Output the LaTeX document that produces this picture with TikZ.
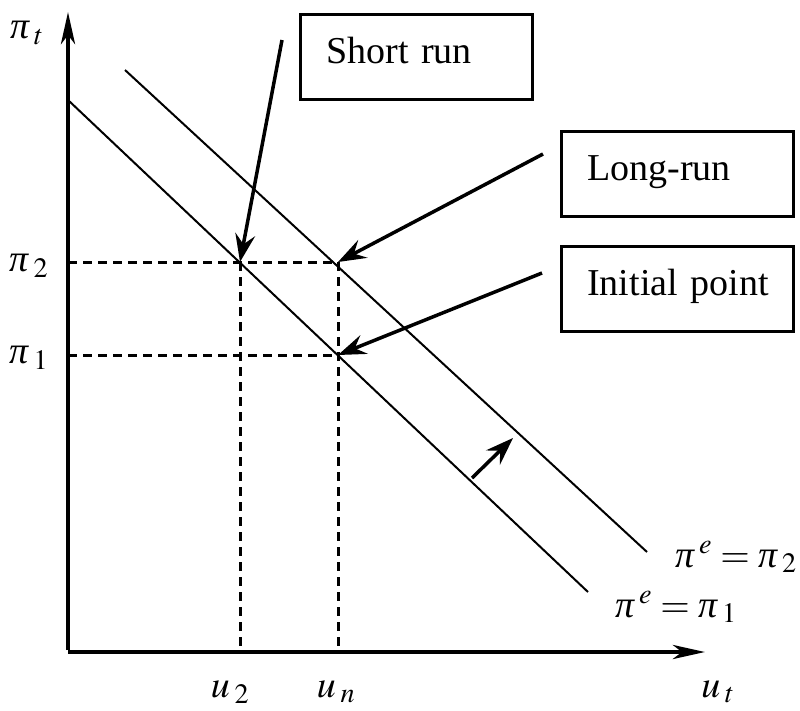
\documentclass[tikz,border=0pt]{standalone}
\usepackage{mathptmx}
\usepackage{fontspec}
\setmainfont{Liberation Serif}
\usetikzlibrary{arrows.meta}

\newcommand{\ppi}{\mbox{\itshape π}}

\tikzset{
  axisline/.style={line width=4.5pt, -{Stealth[length=32pt,width=14pt,inset=9pt]}},
  curveline/.style={line width=2pt},
  guideline/.style={line width=3pt, dash pattern=on 9pt off 6pt},
  pointer/.style={line width=3.5pt, -{Stealth[length=28pt,width=20pt,inset=10pt]}},
  infobox/.style={draw, line width=2.5pt, anchor=north west,
    text width=206pt, align=left, inner xsep=13pt, inner ysep=24pt,
    text height=25pt, text depth=12pt, font=\fontsize{38}{40}\selectfont,
    execute at begin node={\hspace*{13pt}}},
  mathlabel/.style={font=\fontsize{38}{40}\selectfont, inner sep=0pt}
}

\begin{document}
\begin{tikzpicture}[x=1pt, y=-1pt]
  \useasboundingbox (0,0) rectangle (800,710);

  % -- axes: origin, tips, and the points where the guides meet them
  \coordinate (O)    at (68,652);
  \coordinate (ytop) at (68,12);
  \coordinate (xend) at (705,652);
  \coordinate (p2)   at (68,262);
  \coordinate (p1)   at (68,355);
  \coordinate (u2pt) at (240,652);
  \coordinate (unpt) at (338,652);

  % -- the two curves, and the three equilibrium points on them
  \coordinate (lowS)  at (68,100);
  \coordinate (lowE)  at (588,592);
  \coordinate (highS) at (125,70);
  \coordinate (highE) at (647,552);
  \coordinate (A) at (240,262);  % short run
  \coordinate (B) at (338,262);  % long run
  \coordinate (C) at (338,355);  % initial point

  \draw[axisline] ([yshift=2pt]O) -- (ytop);
  \draw[axisline] (O) -- (xend);
  \draw[curveline] (lowS) -- (lowE);
  \draw[curveline] (highS) -- (highE);

  % dashed guides to the axes
  \draw[guideline] (p2) -- (B);
  \draw[guideline] (p1) -- (C);
  \draw[guideline] (A) -- (u2pt);
  \draw[guideline] (B) -- (unpt);

  % the boxes and their pointers
  \node[infobox] (shortbox)   at (299,13)  {Short run};
  \node[infobox] (longbox)    at (560,130) {Long-run};
  \node[infobox] (initialbox) at (560,245) {Initial point};
  \coordinate (shorttail)   at (282,40);
  \coordinate (longtail)    at (543,154);
  \coordinate (initialtail) at (542,273);
  \draw[pointer] (shorttail) -- (A);
  \draw[pointer] (longtail) -- (B);
  \draw[pointer] (initialtail) -- (C);

  % shift of the curve
  \coordinate (shiftS) at (472,478);
  \coordinate (shiftE) at (513,438);
  \draw[pointer] (shiftS) -- (shiftE);

  % axis labels
  \node[mathlabel] (pit)  at (27,33)  {$\ppi_{\mkern3mu t}$};
  \node[mathlabel] (pi2)  at (29,266) {$\ppi_{\mkern3mu 2}$};
  \node[mathlabel] (pi1)  at (29,358) {$\ppi_{\mkern3mu 1}$};
  \node[mathlabel] (u2)   at (230,692) {$u_{\mkern3mu 2}$};
  \node[mathlabel] (un)   at (336,692) {$u_{\mkern3mu n}$};
  \node[mathlabel] (ut)   at (718,692) {$u_{\mkern3mu t}$};
  \node[mathlabel] (pe2)  at (736,557) {$\ppi^{\mkern3mu e} = \ppi_{\mkern3mu 2}$};
  \node[mathlabel] (pe1)  at (676,607) {$\ppi^{\mkern3mu e} = \ppi_{\mkern3mu 1}$};
\end{tikzpicture}
\end{document}
